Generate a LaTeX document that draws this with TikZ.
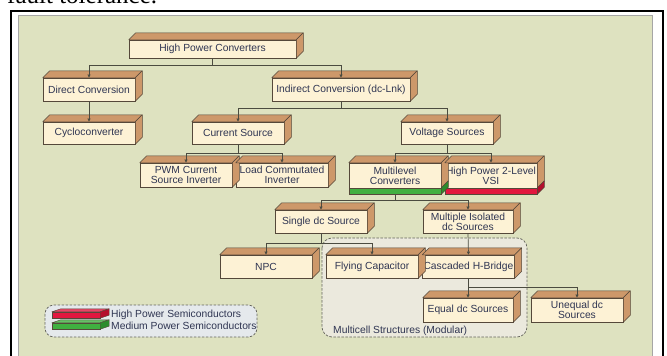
\documentclass[tikz,border=0pt]{standalone}
\usepackage{fontspec}
\setmainfont{Liberation Sans}
\newfontfamily\serifx{Liberation Serif}
\usetikzlibrary{arrows.meta,calc}
\definecolor{panel}{RGB}{222,226,192}
\definecolor{cream}{RGB}{253,242,213}
\definecolor{brownside}{RGB}{205,152,106}
\definecolor{edge}{RGB}{85,72,58}
\definecolor{txt}{RGB}{47,53,82}
\definecolor{connc}{RGB}{75,75,64}
\definecolor{regionfill}{RGB}{235,233,221}
\definecolor{legendfill}{RGB}{229,233,236}
\definecolor{dashc}{RGB}{100,100,92}
\definecolor{greenbar}{RGB}{64,176,64}
\definecolor{greenside}{RGB}{44,140,44}
\definecolor{redbar}{RGB}{226,23,63}
\definecolor{redside}{RGB}{180,14,45}
\newcommand\cubeside[1]{%
  \filldraw[side] (#1.north west) -- ++(7,-7) -- ($(#1.north east)+(7,-7)$) -- (#1.north east) -- cycle;
  \filldraw[side] (#1.north east) -- ++(7,-7) -- ($(#1.south east)+(7,-7)$) -- (#1.south east) -- cycle;}
\begin{document}
\begin{tikzpicture}[x=1pt,y=-1pt,
  box/.style={draw=edge,line width=0.5pt,fill=cream,text=txt,minimum width=92pt,minimum height=23pt,
    inner sep=1pt,align=center,font=\fontsize{10.3}{10}\selectfont},
  barnode/.style={draw=edge,line width=0.5pt,minimum width=92pt,minimum height=6pt,inner sep=0pt},
  lbar/.style={draw=edge,line width=0.4pt,minimum width=48pt,minimum height=6pt,inner sep=0pt},
  side/.style={fill=brownside,draw=edge,line width=0.5pt,line join=round},
  conn/.style={draw=connc,line width=0.7pt,-{Triangle[length=3.2pt,width=3pt]}},
  lbl/.style={text=txt,inner sep=0pt,font=\fontsize{10.3}{10}\selectfont},
  region/.style={draw=dashc,line width=0.7pt,dash pattern=on 2.5pt off 1.5pt,rounded corners=10pt}
  ]
\useasboundingbox (0,0) rectangle (667,356);
\begin{scope}
\clip (0,0) rectangle (667,356);
\fill[white] (0,0) rectangle (667,356);
\node[anchor=base west,inner sep=0pt,font=\serifx\fontsize{25}{25}\selectfont,text=black] (title) at (7,3) {fault tolerance.};
\draw[black,line width=2pt] (11,11) rectangle (662.5,370);
\filldraw[fill=panel,draw=gray!70,line width=0.6pt] (18,15.5) rectangle (651.8,370);
\end{scope}

% regions
\filldraw[region,fill=regionfill] (322,238) rectangle (527,337);
\node[lbl,anchor=west] (mclabel) at (333,331) {Multicell Structures (Modular)};
\filldraw[region,fill=legendfill,rounded corners=9pt] (45,305) rectangle (257,337);

% boxes
\node[box,minimum width=167pt,minimum height=18pt] (hpc) at (212.5,49) {High Power Converters};
\node[box] (direct) at (89,89.5) {Direct Conversion};
\node[box,minimum width=138pt] (indirect) at (341,89.5) {Indirect Conversion (dc-Lnk)};
\node[box,minimum height=22pt] (cyclo) at (89,133) {Cycloconverter};
\node[box,minimum height=22pt] (cursrc) at (238,133) {Current Source};
\node[box,minimum height=22pt] (volt) at (447,133) {Voltage Sources};
\node[box,minimum height=24pt] (pwm) at (186,175) {PWM Current\\Source Inverter};
\node[box,minimum height=24pt] (lci) at (282,175) {Load Commutated\\Inverter};
\node[box,minimum height=25pt] (multi) at (395,175.5) {Multilevel\\Converters};
\node[box,minimum height=25pt] (hp2l) at (491,175.5) {High Power 2-Level\\VSI};
\node[box] (single) at (321,221.5) {Single dc Source};
\node[box,minimum width=90pt] (multiiso) at (468,221.5) {Multiple Isolated\\dc Sources};
\node[box] (npc) at (266,266.5) {NPC};
\node[box] (flying) at (372,266.5) {Flying Capacitor};
\node[box,minimum width=91pt] (cascaded) at (468.5,266.5) {Cascaded H-Bridge};
\node[box,minimum width=90pt,minimum height=24pt] (equal) at (468,310) {Equal dc Sources};
\node[box,minimum height=24pt] (unequal) at (577,310) {Unequal dc\\Sources};

\foreach \n in {hpc,direct,indirect,cyclo,cursrc,volt,pwm,lci,multi,hp2l,single,multiiso,npc,flying,cascaded,equal,unequal}{\cubeside{\n}}

% coloured bars
\node[barnode,fill=greenbar] (multibar) at (395,191) {};
\node[barnode,fill=redbar] (hp2lbar) at (491,191) {};
\filldraw[fill=greenside,draw=edge,line width=0.5pt,line join=round] (multibar.north east) -- ++(7,-7) -- ($(multibar.south east)+(7,-7)$) -- (multibar.south east) -- cycle;
\filldraw[fill=redside,draw=edge,line width=0.5pt,line join=round] (hp2lbar.north east) -- ++(7,-7) -- ($(hp2lbar.south east)+(7,-7)$) -- (hp2lbar.south east) -- cycle;

% connectors
\draw[conn] (hpc.south) -- ++(0,7) -| (direct.north);
\draw[conn] (hpc.south) -- ++(0,7) -| (indirect.north);
\draw[conn] (direct.south) -- (cyclo.north);
\draw[conn] (indirect.south) -- ++(0,7) -| (cursrc.north);
\draw[conn] (indirect.south) -- ++(0,7) -| (volt.north);
\draw[conn] (cursrc.south) -- ++(0,9) -| (pwm.north);
\draw[conn] (cursrc.south) -- ++(0,9) -| (lci.north);
\draw[conn] (volt.south) -- ++(0,9) -| (multi.north);
\draw[conn] (volt.south) -- ++(0,9) -| (hp2l.north);
\draw[conn] (multibar.south) -- ++(0,6) -| (single.north);
\draw[conn] (multibar.south) -- ++(0,6) -| (multiiso.north);
\draw[conn] (single.south) -- ++(0,10) -| (npc.north);
\draw[conn] (single.south) -- ++(0,10) -| (flying.north);
\draw[conn] (multiiso.south) -- (cascaded.north);
\draw[conn] (cascaded.south) -- ++(0,9) -| (equal.north);
\draw[conn] (cascaded.south) -- ++(0,9) -| (unequal.north);

% legend
\node[lbar,fill=redbar] (lred) at (76,315) {};
\filldraw[fill=redbar!80!white,draw=edge,line width=0.4pt,line join=round] (lred.north west) -- ++(9,-3) -- ($(lred.north east)+(9,-3)$) -- (lred.north east) -- cycle;
\filldraw[fill=redside,draw=edge,line width=0.4pt,line join=round] (lred.north east) -- ++(9,-3) -- ($(lred.south east)+(9,-3)$) -- (lred.south east) -- cycle;
\node[lbar,fill=greenbar] (lgreen) at (76,326) {};
\filldraw[fill=greenbar!80!white,draw=edge,line width=0.4pt,line join=round] (lgreen.north west) -- ++(9,-3) -- ($(lgreen.north east)+(9,-3)$) -- (lgreen.north east) -- cycle;
\filldraw[fill=greenside,draw=edge,line width=0.4pt,line join=round] (lgreen.north east) -- ++(9,-3) -- ($(lgreen.south east)+(9,-3)$) -- (lgreen.south east) -- cycle;
\node[lbl,anchor=west] (lhigh) at (111,315) {High Power Semiconductors};
\node[lbl,anchor=west] (lmed) at (111,326) {Medium Power Semiconductors};
\end{tikzpicture}
\end{document}
